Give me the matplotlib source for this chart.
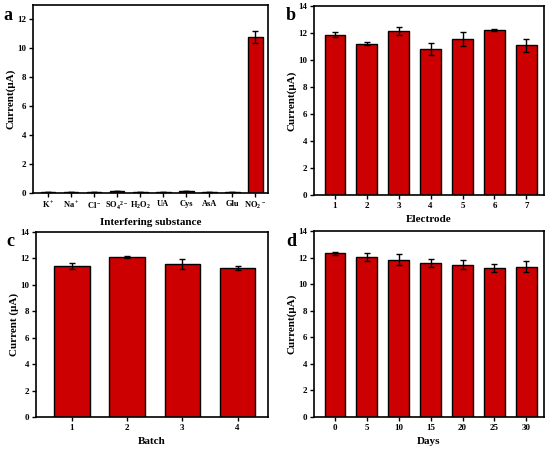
import matplotlib
matplotlib.use("Agg")
import matplotlib.pyplot as plt
import numpy as np

plt.rcParams['font.family'] = ['Liberation Serif', 'DejaVu Serif']
plt.rcParams['font.weight'] = 'bold'
plt.rcParams['mathtext.default'] = 'regular'

# panel a: interference
a_labels = [r'K$^+$', r'Na$^+$', r'Cl$^-$', r'SO$_4$$^{2-}$', r'H$_2$O$_2$',
            'UA', 'Cys', 'AsA', 'Glu', r'NO$_2$$^-$']
a_vals = [0.08, 0.06, 0.07, 0.13, 0.06, 0.08, 0.16, 0.04, 0.07, 10.8]
a_err = [0, 0, 0, 0, 0, 0, 0, 0, 0, 0.42]

# panel b: electrodes
b_labels = ['1', '2', '3', '4', '5', '6', '7']
b_vals = [11.87, 11.2, 12.15, 10.8, 11.55, 12.2, 11.08]
b_err = [0.2, 0.1, 0.32, 0.45, 0.52, 0.06, 0.5]

# panel c: batches
c_labels = ['1', '2', '3', '4']
c_vals = [11.42, 12.12, 11.6, 11.28]
c_err = [0.2, 0.1, 0.38, 0.15]

# panel d: stability over days
d_labels = ['0', '5', '10', '15', '20', '25', '30']
d_vals = [12.32, 12.02, 11.85, 11.58, 11.47, 11.22, 11.3]
d_err = [0.12, 0.3, 0.4, 0.28, 0.35, 0.3, 0.42]

RED = '#CC0000'

fig = plt.figure(figsize=(5.5, 4.5), dpi=100)
W, H = 550.0, 450.0


def make_ax(l, t, r, b):
    return fig.add_axes([l / W, 1 - b / H, (r - l) / W, (b - t) / H])


def draw(ax, labels, vals, err, ylim, yticks, xlabel, ylabel, letter, lx, ly):
    x = np.arange(len(labels))
    ax.bar(x, vals, width=0.64, color=RED, edgecolor='black', linewidth=1.0,
           yerr=err, capsize=2.5, error_kw=dict(elinewidth=1.0, capthick=1.0, ecolor='black'))
    ax.set_xlim(-0.65, len(labels) - 0.45)
    ax.set_ylim(*ylim)
    ax.set_yticks(yticks)
    ax.set_xticks(x)
    ax.set_xticklabels(labels)
    ax.tick_params(direction='out', length=3, width=1, labelsize=6.5, pad=2)
    for s in ax.spines.values():
        s.set_linewidth(1.2)
    ax.set_xlabel(xlabel, fontsize=8, fontweight='bold', labelpad=4)
    ax.set_ylabel(ylabel, fontsize=8, fontweight='bold', labelpad=1)
    fig.text(lx / W, 1 - ly / H, letter, fontsize=13, fontweight='bold',
             ha='left', va='center')


ax_a = make_ax(33, 5, 268, 193)
draw(ax_a, a_labels, a_vals, a_err, (0, 13), range(0, 13, 2),
     'Interfering substance', 'Current(μA)', 'a', 3, 15)
ax_a.tick_params(axis='x', labelsize=6)

ax_b = make_ax(314, 6, 544, 195)
draw(ax_b, b_labels, b_vals, b_err, (0, 14), range(0, 15, 2),
     'Electrode', 'Current(μA)', 'b', 286, 15)

ax_c = make_ax(36, 232, 268, 417)
draw(ax_c, c_labels, c_vals, c_err, (0, 14), range(0, 15, 2),
     'Batch', 'Current (μA)', 'c', 6, 241)

ax_d = make_ax(314, 231, 544, 417)
draw(ax_d, d_labels, d_vals, d_err, (0, 14), range(0, 15, 2),
     'Days', 'Current(μA)', 'd', 286, 241)

fig.savefig('out.png', dpi=100)
